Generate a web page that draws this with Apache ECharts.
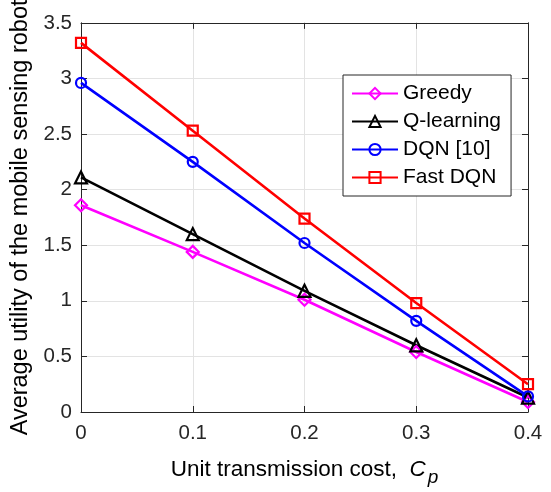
<!DOCTYPE html>
<html><head><meta charset="utf-8">
<script src="https://cdn.jsdelivr.net/npm/echarts@6/dist/echarts.min.js"></script>
<style>html,body{margin:0;padding:0;background:#fff}#c{width:551px;height:492px}</style>
</head><body><div id="c"></div>
<script>
const costs = [0, 0.1, 0.2, 0.3, 0.4];
const greedy = [1.86, 1.44, 1.01, 0.54, 0.09];
const qlearning = [2.11, 1.60, 1.09, 0.60, 0.13];
const dqn = [2.96, 2.25, 1.52, 0.82, 0.14];
const fastDqn = [3.32, 2.53, 1.74, 0.98, 0.25];
const yTicks = ['0','0.5','1','1.5','2','2.5','3','3.5'];
const xTicks = ['0','0.1','0.2','0.3','0.4'];
const names = ['Greedy','Q-learning','DQN [10]','Fast DQN'];

const font = 'Liberation Sans, Arial, Helvetica, sans-serif';
const chart = echarts.init(document.getElementById('c'), null, {renderer:'canvas'});
function mk(name, vals, color, symbol, size){
  return {name, type:'line', data: costs.map((x,i)=>[x, vals[i]]),
    symbol, symbolSize:size, showAllSymbol:true,
    lineStyle:{color, width:2.6}, itemStyle:{color:'rgba(0,0,0,0)', borderColor:color, borderWidth:2.2},
    emphasis:{disabled:true}, animation:false};
}
const axCommon = {
  axisLine:{show:true, onZero:false, lineStyle:{color:'#262626', width:1}},
  axisTick:{show:true, inside:true, length:6, lineStyle:{color:'#262626'}},
  splitLine:{show:true, lineStyle:{color:'#e3e3e3', width:1}}
};
chart.setOption({
  animation:false,
  grid:{left:81, right:23, top:20, bottom:73, containLabel:false},
  legend:{
    left:343, top:75, orient:'vertical', itemWidth:46, itemHeight:14, itemGap:7,
    padding:[8,10,8,8], backgroundColor:'#fff', borderColor:'#262626', borderWidth:1,
    textStyle:{fontFamily:font, fontSize:21, color:'#000'}, data:names, selectedMode:false
  },
  xAxis:[
    Object.assign({type:'value', min:0, max:0.4, interval:0.1, position:'bottom',
      axisLabel:{color:'#262626', fontFamily:font, fontSize:20.5, margin:11,
        formatter:(v)=>xTicks[Math.round(v*10)]},
      name:'{a|Unit transmission cost,  }{c|C}{p|p}', nameLocation:'middle', nameGap:40,
      nameTextStyle:{rich:{
        a:{fontFamily:font, fontSize:22.5, color:'#000'},
        c:{fontFamily:font, fontSize:22.5, fontStyle:'italic', color:'#000'},
        p:{fontFamily:font, fontSize:19, fontStyle:'italic', color:'#000', padding:[16,0,0,2]}
      }}}, axCommon),
    Object.assign({type:'value', min:0, max:0.4, interval:0.1, position:'top',
      axisLabel:{show:false}}, axCommon, {splitLine:{show:false}})
  ],
  yAxis:[
    Object.assign({type:'value', min:0, max:3.5, interval:0.5, position:'left',
      axisLabel:{color:'#262626', fontFamily:font, fontSize:20.5, margin:9,
        formatter:(v)=>yTicks[Math.round(v*2)]},
      name:'Average utility of the mobile sensing robot', nameLocation:'middle', nameGap:47,
      nameTextStyle:{fontFamily:font, fontSize:23.5, color:'#000'}}, axCommon),
    Object.assign({type:'value', min:0, max:3.5, interval:0.5, position:'right',
      axisLabel:{show:false}}, axCommon, {splitLine:{show:false}})
  ],
  series:[
    mk(names[0], greedy, '#ff00ff', 'diamond', 12),
    mk(names[1], qlearning, '#000000', 'triangle', 12),
    mk(names[2], dqn, '#0000ff', 'circle', 10),
    mk(names[3], fastDqn, '#ff0000', 'rect', 10)
  ]
});
</script></body></html>
